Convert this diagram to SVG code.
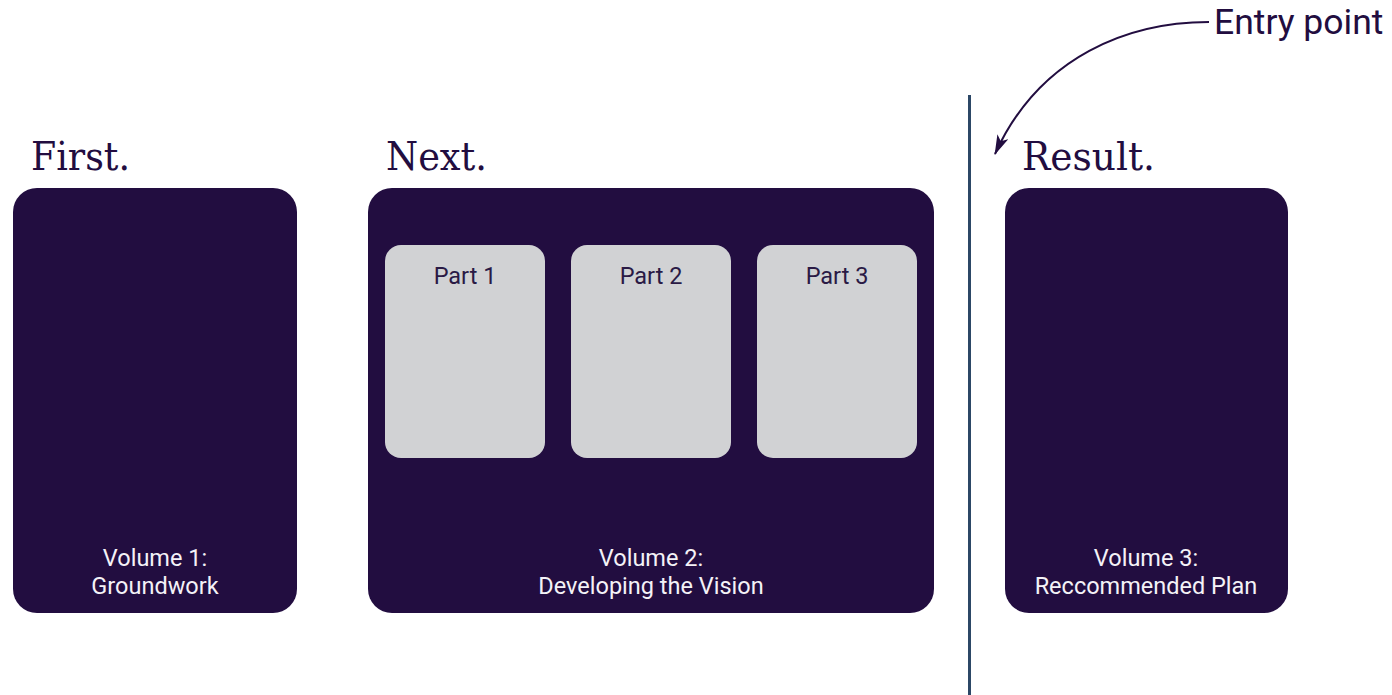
<svg xmlns="http://www.w3.org/2000/svg" width="1392" height="695" viewBox="0 0 1392 695">
<defs>
<style>
.vol{fill:#220d40}
.part{fill:#d1d2d4}
.head{font-family:"DejaVu Serif","Liberation Serif",serif;font-size:40px;fill:#220d40}
.lbl{font-family:Roboto,"Liberation Sans",sans-serif;font-size:23.5px;text-anchor:middle}
.w{fill:#f4f2f7}
.d{fill:#2a1a45}
</style>
<marker id="ah" viewBox="0 0 20 12" refX="19" refY="6" markerWidth="20" markerHeight="12" markerUnits="userSpaceOnUse" orient="auto">
<path d="M0,0 L20,6 L0,12 L5,6 z" fill="#220d40"/>
</marker>
</defs>
<rect width="1392" height="695" fill="#ffffff"/>
<g id="headings">
<text class="head" x="31" y="170" textLength="99" lengthAdjust="spacingAndGlyphs">First.</text>
<text class="head" x="386" y="170" textLength="101" lengthAdjust="spacingAndGlyphs">Next.</text>
<text class="head" x="1022" y="170" textLength="133" lengthAdjust="spacingAndGlyphs">Result.</text>
</g>
<g id="volume1">
<rect class="vol" x="13" y="188" width="284" height="425" rx="24"/>
<text class="lbl w" x="155" y="566">Volume 1:</text>
<text class="lbl w" x="155" y="594">Groundwork</text>
</g>
<g id="volume2">
<rect class="vol" x="368" y="188" width="566" height="425" rx="24"/>
<text class="lbl w" x="651" y="566">Volume 2:</text>
<text class="lbl w" x="651" y="594">Developing the Vision</text>
</g>
<g id="part1">
<rect class="part" x="385" y="245" width="160" height="213" rx="16"/>
<text class="lbl d" x="465" y="284">Part 1</text>
</g>
<g id="part2">
<rect class="part" x="571" y="245" width="160" height="213" rx="16"/>
<text class="lbl d" x="651" y="284">Part 2</text>
</g>
<g id="part3">
<rect class="part" x="757" y="245" width="160" height="213" rx="16"/>
<text class="lbl d" x="837" y="284">Part 3</text>
</g>
<g id="volume3">
<rect class="vol" x="1005" y="188" width="283" height="425" rx="24"/>
<text class="lbl w" x="1146" y="566">Volume 3:</text>
<text class="lbl w" x="1146" y="594">Reccommended Plan</text>
</g>
<g id="divider">
<line x1="969.5" y1="95" x2="969.5" y2="695" stroke="#2c4766" stroke-width="3"/>
</g>
<g id="entry">
<text x="1214" y="34" font-family="Roboto,'Liberation Sans',sans-serif" font-size="35.5" fill="#220d40">Entry point</text>
</g>
<g id="connectors">
<path d="M1209,22 C1130,22 1040,55 995,154" fill="none" stroke="#220d40" stroke-width="2" marker-end="url(#ah)"/>
</g>
</svg>
